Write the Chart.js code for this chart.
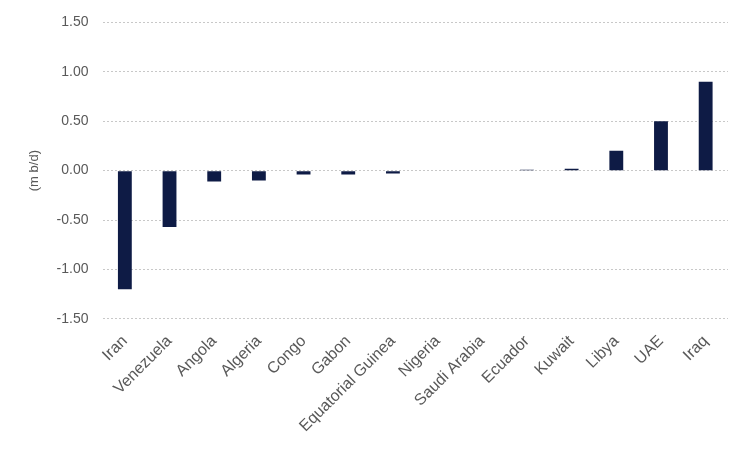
<!DOCTYPE html>
<html>
<head>
<meta charset="utf-8">
<script src="https://cdn.jsdelivr.net/npm/chart.js@4.4.0/dist/chart.umd.min.js"></script>
<style>
  html, body { margin: 0; padding: 0; background: #ffffff; }
  #wrap { width: 750px; height: 450px; }
</style>
</head>
<body>
<div id="wrap"><canvas id="chart"></canvas></div>
<script>
// Categories and values (m b/d)
const countries = ['Iran', 'Venezuela', 'Angola', 'Algeria', 'Congo', 'Gabon', 'Equatorial Guinea',
    'Nigeria', 'Saudi Arabia', 'Ecuador', 'Kuwait', 'Libya', 'UAE', 'Iraq'];
const changes = [-1.20, -0.57, -0.11, -0.10, -0.04, -0.04, -0.03, 0.00, 0.00, 0.01, 0.02, 0.20, 0.50, 0.90];
const yTicks = [-1.5, -1.0, -0.5, 0, 0.5, 1.0, 1.5];

const textColor = '#595959';
const fontFamily = "'Liberation Sans', Arial, sans-serif";

const ctx = document.getElementById('chart').getContext('2d');
new Chart(ctx, {
    type: 'bar',
    data: {
        labels: countries,
        datasets: [{
            data: changes,
            backgroundColor: '#0e1b45',
            borderWidth: 0,
            barPercentage: 0.62,
            categoryPercentage: 0.5
        }]
    },
    options: {
        responsive: true,
        maintainAspectRatio: false,
        animation: false,
        layout: { padding: { top: 14, right: 22, left: 23, bottom: 9 } },
        plugins: {
            legend: { display: false },
            tooltip: { enabled: false }
        },
        scales: {
            x: {
                grid: { display: false },
                border: { display: false },
                ticks: {
                    color: textColor,
                    font: { size: 16, family: fontFamily },
                    minRotation: 45,
                    maxRotation: 45,
                    autoSkip: false,
                    padding: 5
                }
            },
            y: {
                min: -1.5,
                max: 1.5,
                afterBuildTicks: function(axis) {
                    axis.ticks = yTicks.map(v => ({ value: v }));
                },
                grid: {
                    color: '#c8c8c8',
                    lineWidth: 1,
                    drawTicks: false
                },
                border: { display: false, dash: [2, 2] },
                ticks: {
                    color: textColor,
                    font: { size: 14, family: fontFamily },
                    padding: 14,
                    callback: function(value) {
                        return value.toFixed(2);
                    }
                },
                title: {
                    display: true,
                    text: '(m b/d)',
                    color: textColor,
                    font: { size: 13, family: fontFamily },
                    padding: { top: 4, bottom: 0 }
                }
            }
        }
    }
});
</script>
</body>
</html>
